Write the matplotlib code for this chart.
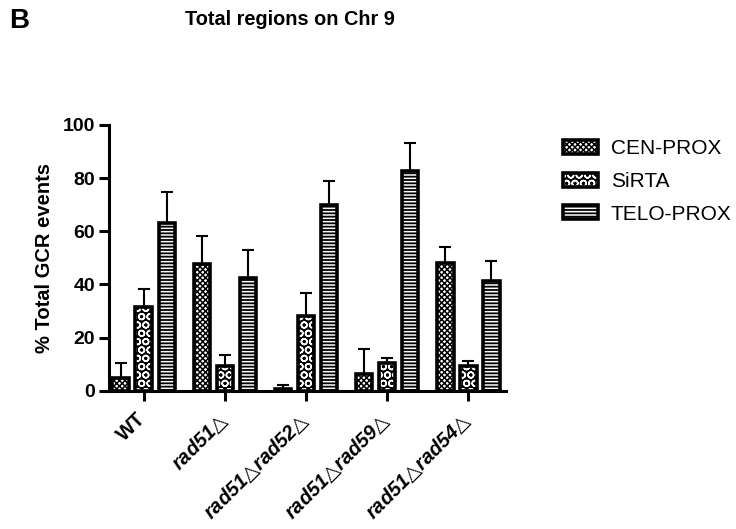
import numpy as np
from matplotlib import pyplot as plt
from matplotlib.patches import Patch
from matplotlib.legend_handler import HandlerTuple
from matplotlib.transforms import ScaledTranslation

plt.rcParams['font.family'] = ['Liberation Sans', 'DejaVu Sans']
plt.rcParams['mathtext.fontset'] = 'custom'
plt.rcParams['mathtext.bf'] = 'Liberation Sans:bold'
plt.rcParams['mathtext.bfit'] = 'Liberation Sans:bold:italic'
plt.rcParams['mathtext.rm'] = 'DejaVu Sans'
plt.rcParams['hatch.linewidth'] = 1.1

strains = [r'$\mathbf{WT}$', r'$\mathbfit{rad51}\mathrm{△}$',
           r'$\mathbfit{rad51}\mathrm{△}\mathbfit{rad52}\mathrm{△}$',
           r'$\mathbfit{rad51}\mathrm{△}\mathbfit{rad59}\mathrm{△}$',
           r'$\mathbfit{rad51}\mathrm{△}\mathbfit{rad54}\mathrm{△}$']
regions = ['CEN-PROX', 'SiRTA', 'TELO-PROX']
cen_prox = [4.9, 47.7, 0.6, 6.4, 48.1]
cen_err = [5.6, 10.6, 1.8, 9.4, 5.9]
sirta = [31.6, 9.4, 28.2, 10.4, 9.4]
sirta_err = [6.7, 4.1, 8.6, 1.9, 1.9]
telo_prox = [63.2, 42.5, 70.0, 82.5, 41.4]
telo_err = [11.6, 10.5, 9.0, 10.5, 7.5]

values = [cen_prox, sirta, telo_prox]
errors = [cen_err, sirta_err, telo_err]
hatches = ['xxxxxx', 'OO', '-----']
faces = ['white', 'black', 'black']
hcolors = ['black', 'white', 'white']

fig = plt.figure(figsize=(7.36, 5.29), dpi=100)
ax = fig.add_axes([0.148, 0.261, 0.540, 0.503])

x = np.arange(len(strains))
step = 0.284
width = 0.205
for i in range(3):
    pos = x + (i - 1) * step
    ax.bar(pos, values[i], width, color=faces[i], edgecolor=hcolors[i],
           hatch=hatches[i], linewidth=0, zorder=2)
    ax.bar(pos, values[i], width, fill=False, edgecolor='black',
           linewidth=2.6, zorder=3)
    ax.errorbar(pos, values[i], yerr=[np.zeros(5), errors[i]], fmt='none',
                ecolor='black', elinewidth=1.5, capsize=4, capthick=1.5, zorder=1)

ax.set_xlim(-0.43, 4.47)
ax.set_ylim(0, 100)
ax.set_yticks([0, 20, 40, 60, 80, 100])
ax.set_xticks(x)
ax.set_xticklabels(strains, rotation=45, ha='right', rotation_mode='anchor', fontsize=14.5)
for s in ['top', 'right']:
    ax.spines[s].set_visible(False)
for s in ['left', 'bottom']:
    ax.spines[s].set_linewidth(2.2)
ax.tick_params(axis='both', width=2.2, length=7, labelsize=14, pad=3)
ax.tick_params(axis='x', labelsize=14.5, pad=6)
for t in ax.get_yticklabels():
    t.set_fontweight('bold')
shift = ScaledTranslation(-7 / 100, 0, fig.dpi_scale_trans)
for t in ax.get_xticklabels():
    t.set_transform(t.get_transform() + shift)
ax.set_ylabel('% Total GCR events', fontsize=14.5, fontweight='bold', labelpad=6)

fig.text(0.012, 0.96, 'B', fontsize=20, fontweight='bold', va='center')
fig.text(0.394, 0.964, 'Total regions on Chr 9', fontsize=14.3, fontweight='bold',
         ha='center', va='center')

handles = []
for i in range(3):
    fillp = Patch(facecolor=faces[i], edgecolor=hcolors[i], hatch=hatches[i], linewidth=0)
    edgep = Patch(fill=False, edgecolor='black', linewidth=2.6)
    handles.append((fillp, edgep))
leg = fig.legend(handles, regions, loc='upper left', bbox_to_anchor=(0.765, 0.737),
                 frameon=False, fontsize=15, handlelength=1.7, handleheight=0.65,
                 labelspacing=0.66, handletextpad=0.6, borderpad=0, borderaxespad=0,
                 handler_map={tuple: HandlerTuple(ndivide=1)})

fig.savefig('out.png', dpi=100)
